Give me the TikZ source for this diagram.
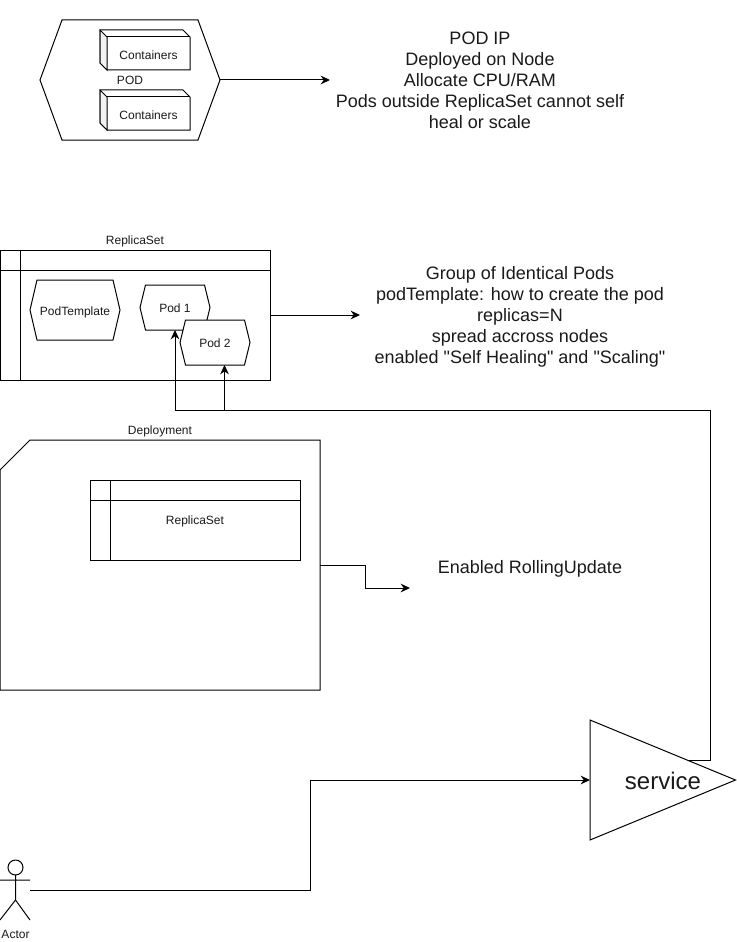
\documentclass[tikz,border=0pt]{standalone}
\usepackage{fontspec}
\setmainfont{Liberation Sans}[Ligatures=TeXOff]
\usetikzlibrary{arrows.meta}
\definecolor{txt}{HTML}{1A1A1A}
\tikzset{
  ln/.style={draw=black,line width=0.75pt},
  small/.style={font=\fontsize{9}{11}\selectfont,text=txt,inner sep=0pt},
  big/.style={font=\fontsize{13.5}{15.75}\selectfont,text=txt,inner sep=0pt,align=center},
  conn/.style={ln,-{Stealth[length=7pt,width=6.5pt]}},
  frame/.style={ln,fill=white,rectangle,inner sep=0pt,outer sep=0pt,anchor=north west},
  anchorbox/.style={rectangle,inner sep=0pt,outer sep=0pt}
}
% name, cx, cy, w, h, inset, text
\newcommand{\hexnode}[7]{%
  \draw[ln,fill=white] (#2-#4/2,#3) -- (#2-#4/2+#6,#3-#5/2) -- (#2+#4/2-#6,#3-#5/2) -- (#2+#4/2,#3)
    -- (#2+#4/2-#6,#3+#5/2) -- (#2-#4/2+#6,#3+#5/2) -- cycle;
  \node[anchorbox,small,minimum width=#4*0.75pt,minimum height=#5*0.75pt] (#1) at (#2,#3) {};
  \node[small,anchor=base] (#1text) at (#2,#3+5.3) {#7};
}
% name, x, y, w, h, text
\newcommand{\cubenode}[6]{%
  \draw[ln,fill=white] (#2,#3) -- (#2+#4-7,#3) -- (#2+#4,#3+7) -- (#2+#4,#3+#5) -- (#2+7,#3+#5) -- (#2,#3+#5-7) -- cycle;
  \draw[ln,fill=white!95!black] (#2,#3) -- (#2+7,#3+7) -- (#2+7,#3+#5) -- (#2,#3+#5-7) -- cycle;
  \draw[ln] (#2+7,#3+7) -- (#2+#4,#3+7);
  \node[anchorbox,small] (#1) at (#2+#4/2+3.5,#3+#5/2+5) {#6};
}
% name, x, y, w, h, column, header
\newcommand{\lanenode}[7]{%
  \node[frame,minimum width=#4*0.75pt,minimum height=#5*0.75pt] (#1) at (#2,#3) {};
  \draw[ln] (#2,#3+#7) -- (#2+#4,#3+#7);
  \draw[ln] (#2+#6,#3) -- (#2+#6,#3+#5);
}
\begin{document}
\begin{tikzpicture}[x=0.75pt,y=-0.75pt]
\useasboundingbox (0,0) rectangle (736,942);
\fill[white] (0,0) rectangle (736,942);

% POD
\hexnode{pod}{130}{80}{180}{120}{22}{}
\cubenode{c1}{100}{30}{90}{40}{Containers}
\cubenode{c2}{100}{90}{90}{40}{Containers}
\node[small] (podlabel) at (130,80.5) {POD};
\node[big] (podtext) at (480,80) {POD IP\\Deployed on Node\\Allocate CPU/RAM\\Pods outside ReplicaSet cannot self\\heal or scale};
\coordinate (podend) at (330,80);
\draw[conn] (pod.east) -- (podend);

% ReplicaSet
\node[small] (rstitle) at (135,241.5) {ReplicaSet};
\lanenode{rs}{0}{250}{270}{130}{20}{20}
\hexnode{tmpl}{75}{310}{90}{60}{7}{PodTemplate}
\hexnode{pa}{175}{307.5}{70}{45}{5.5}{Pod 1}
\hexnode{pb}{215}{342.5}{70}{45}{5.5}{Pod 2}
\node[big] (rstext) at (520,317) {Group of Identical Pods\\podTemplate: how to create the pod\\replicas=N\\spread accross nodes\\enabled "Self Healing" and "Scaling"};
\coordinate (rsend) at (360,315);
\draw[conn] (rs.east) -- (rsend);

% Deployment
\node[small] (deptitle) at (160,431.5) {Deployment};
\draw[ln,fill=white] (30,440) -- (320,440) -- (320,690) -- (0,690) -- (0,470) -- cycle;
\node[anchorbox,minimum width=240pt,minimum height=187.5pt] (dep) at (160,565) {};
\lanenode{inner}{90}{480}{210}{80}{20}{20}
\node[small] (innerlabel) at (195,521.5) {ReplicaSet};
\node[big] (deptext) at (530,569) {Enabled RollingUpdate};
\coordinate (depend) at (410,588);
\draw[conn] (dep.east) -- (365,565) -- (365,588) -- (depend);

% Service
\draw[ln,fill=white] (590,720) -- (735.5,780) -- (590,840) -- cycle;
\node[anchorbox,minimum width=109.5pt,minimum height=90pt] (svc) at (663,780) {};
\node[font=\fontsize{18}{22}\selectfont,text=txt,inner sep=0pt] (svclabel) at (663,781) {service};
\coordinate (svcout) at (688,760);
\coordinate (junction) at (224.5,410);
\draw[ln] (svcout) -- (710,760) -- (710,410) -- (junction);
\draw[conn] (junction) -- (175,410) -- (pa.south);
\draw[conn] (junction) -- (junction |- pb.south);

% Actor
\draw[ln] (15.5,867.5) circle (7.5);
\draw[ln] (15.5,875) -- (15.5,900) (0,880) -- (30,880) (0,920) -- (15.5,900) -- (30,920);
\coordinate (actor) at (30,890);
\node[small] (actorlabel) at (15.5,934) {Actor};
\draw[conn] (actor) -- (310,890) -- (310,780) -- (svc.west);
\end{tikzpicture}
\end{document}
